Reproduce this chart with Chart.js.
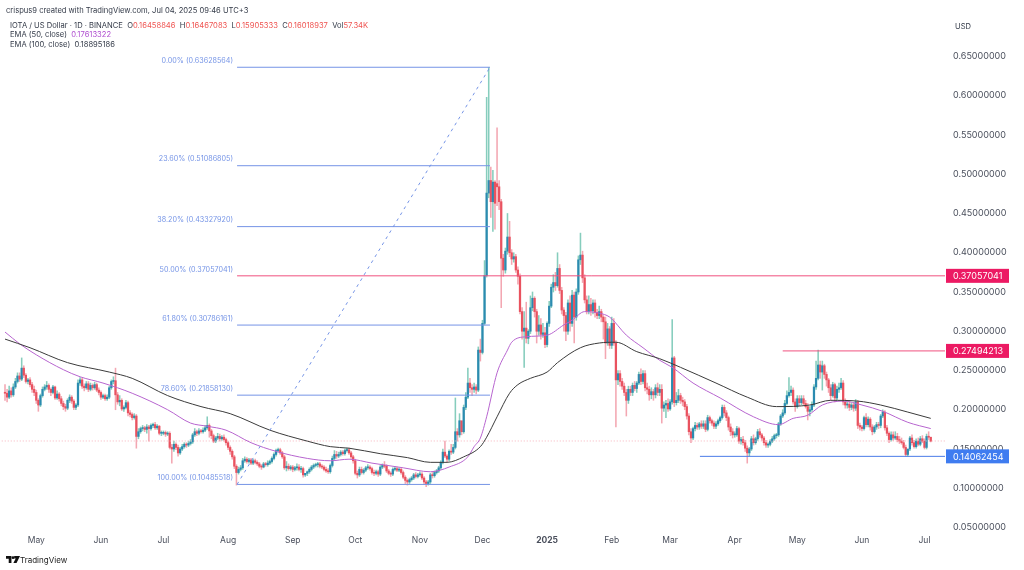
<!DOCTYPE html>
<html>
<head>
<meta charset="utf-8">
<title>IOTA / US Dollar</title>
<script src="https://cdn.jsdelivr.net/npm/chart.js@4/dist/chart.umd.min.js"></script>
<style>
  html,body{margin:0;padding:0;background:#fff;font-family:Inter,"Liberation Sans",sans-serif;}
  #wrap{position:relative;width:1024px;height:570px;overflow:hidden;filter:blur(0.35px);}
  canvas{position:absolute;left:0;top:0;}
  .t{position:absolute;white-space:nowrap;font-size:7.6px;line-height:10px;color:#333a48;}
  .r{color:#ef5350;}
  .p{color:#b04fd0;}
  #logo{position:absolute;left:6px;top:556px;}
</style>
</head>
<body>
<div id="wrap">
  <canvas id="c" width="1024" height="570"></canvas>
  <div class="t" style="left:6px;top:6px">crispus9 created with TradingView.com, Jul 04, 2025 09:46 UTC+3</div>
  <div class="t" style="left:10px;top:21px">IOTA / US Dollar · 1D · BINANCE &nbsp;O<span class="r">0.16458846</span> &nbsp;H<span class="r">0.16467083</span> &nbsp;L<span class="r">0.15905333</span> &nbsp;C<span class="r">0.16018937</span> &nbsp;Vol<span class="r">57.34K</span></div>
  <div class="t" style="left:10px;top:30px">EMA (50, close) &nbsp;<span class="p">0.17613322</span></div>
  <div class="t" style="left:10px;top:40px">EMA (100, close) &nbsp;0.18895186</div>
  <div class="t" style="left:955px;top:22px">USD</div>
  <svg id="logo" width="14" height="8" viewBox="0 0 36 20"><path fill="#111" d="M0 0h14v18H7V7H0zM21 0h15l-9 18h-8l6-12h-4z"/><circle cx="18" cy="4" r="3.6" fill="#111"/></svg>
  <div class="t" style="left:20px;top:555px;font-size:8px;color:#222">TradingView</div>
</div>
<script>
const opens = [
222,221,216,224,219,229,236,243,239,253,
244,236,238,232,226,222,212,206,218,226,
229,231,226,222,229,215,220,214,208,204,
202,212,216,211,203,206,234,238,230,228,
233,226,231,228,232,225,222,216,218,214,
216,228,236,237,219,210,212,201,203,209,
196,194,190,192,166,172,176,177,175,178,
176,180,181,177,179,170,170,171,169,170,
152,150,156,152,145,150,153,156,155,157,
159,168,172,170,173,172,174,177,180,173,
167,160,164,166,163,165,162,158,152,147,
140,128,120,124,126,135,137,134,136,132,
135,133,131,128,127,131,130,132,134,138,
143,148,149,145,140,126,128,125,127,124,
126,127,124,125,117,119,121,124,127,129,
130,131,128,127,124,122,121,129,138,143,
141,143,146,144,148,149,145,140,135,119,
117,124,120,123,126,127,125,120,119,121,
118,127,129,128,122,119,118,124,125,123,
124,120,114,110,108,111,113,117,115,117,
118,113,108,106,108,117,116,120,122,126,
133,146,141,137,147,146,152,172,168,186,
172,203,216,234,228,226,229,225,276,273,
310,371,476,492,465,490,488,484,465,393,
378,402,420,400,392,395,378,370,325,300,
304,291,300,330,342,325,300,308,296,298,
283,310,332,356,362,358,380,352,327,320,
300,336,310,346,318,350,391,397,368,340,
325,334,326,336,324,320,325,318,312,285,
303,282,310,285,238,246,236,230,222,212,
226,222,231,227,234,245,236,246,228,226,
219,223,219,228,222,226,202,206,208,201,
210,266,209,212,218,212,210,204,192,172,
164,176,180,178,182,179,182,175,190,186,
183,179,182,186,190,203,196,190,178,172,
168,168,176,160,162,158,151,145,150,163,
158,163,172,168,164,158,155,156,160,163,
167,168,182,192,196,208,218,222,225,210,
204,214,209,214,208,204,198,200,206,229,
240,257,248,256,245,238,228,218,232,215,
226,228,234,210,206,207,203,206,202,210,
180,178,176,190,181,188,178,172,178,181,
180,192,197,177,170,162,168,164,166,162,
160,158,152,143,150,164,158,153,160,156,
163,160,152,166,165];
const closes = [
221,216,224,219,229,236,243,239,253,244,
236,238,232,226,222,212,206,218,226,229,
231,226,222,229,215,220,214,208,204,202,
212,216,211,203,206,234,238,230,228,233,
226,231,228,232,225,222,216,218,214,216,
228,236,237,219,210,212,201,203,209,196,
194,190,192,166,172,176,177,175,178,176,
180,181,177,179,170,170,171,169,170,152,
150,156,152,145,150,153,156,155,157,159,
168,172,170,173,172,174,177,180,173,167,
160,164,166,163,165,162,158,152,147,140,
128,120,124,126,135,137,134,136,132,135,
133,131,128,127,131,130,132,134,138,143,
148,149,145,140,126,128,125,127,124,126,
127,124,125,117,119,121,124,127,129,130,
131,128,127,124,122,121,129,138,143,141,
143,146,144,148,149,145,140,135,119,117,
124,120,123,126,127,125,120,119,121,118,
127,129,128,122,119,118,124,125,123,124,
120,114,110,108,111,113,117,115,117,118,
113,108,106,108,117,116,120,122,126,133,
146,141,137,147,146,152,172,168,186,172,
203,216,234,228,226,229,225,276,273,310,
371,476,492,465,490,463,484,465,393,378,
402,420,400,392,395,378,370,325,300,304,
291,300,330,342,325,300,308,296,298,283,
310,332,356,362,358,380,352,327,320,300,
336,310,346,318,350,391,397,368,340,325,
334,326,336,324,320,325,318,312,285,303,
282,310,285,238,246,236,230,222,212,226,
222,231,227,234,245,236,246,228,226,219,
223,219,228,222,226,202,206,208,201,210,
266,209,212,218,212,210,204,192,172,164,
176,180,178,182,179,182,175,190,186,183,
179,182,186,190,203,196,190,178,172,168,
168,176,160,162,158,151,145,150,163,158,
163,172,168,164,158,155,156,160,163,167,
168,182,192,196,208,218,222,225,210,204,
214,209,214,208,204,198,200,206,229,240,
257,248,256,245,238,228,218,232,215,226,
228,234,210,206,207,203,206,202,210,180,
178,176,190,181,188,178,172,178,181,180,
192,197,177,170,162,168,164,166,162,160,
158,152,143,150,164,158,153,160,156,163,
160,152,166,165,160];
const highs = [
232,226,230,228,233,240,247,247,266,256,
246,240,241,235,230,225,214,220,229,232,
236,233,228,231,230,224,222,217,211,207,
214,219,218,213,208,238,241,240,233,236,
236,234,233,235,234,228,224,220,220,219,
230,238,242,253,222,218,214,205,212,211,
199,196,195,194,176,178,180,179,181,180,
182,183,184,181,180,173,173,173,172,172,
156,160,158,155,152,156,158,158,160,162,
170,176,174,176,175,177,180,191,182,175,
169,166,170,169,167,168,164,160,154,149,
142,130,127,129,138,140,139,138,138,137,
137,135,133,130,133,133,135,136,140,145,
150,151,151,147,142,134,131,129,129,128,
131,130,128,127,119,122,126,129,131,132,
133,133,130,129,127,125,131,141,148,147,
146,148,148,150,151,151,147,142,137,122,
127,127,125,128,130,129,127,123,123,123,
129,131,134,130,124,121,126,128,127,126,
126,122,116,112,113,115,119,120,119,121,
120,115,110,110,119,120,122,124,128,135,
150,160,143,149,156,156,215,176,195,180,
206,222,253,240,232,234,232,280,290,314,
390,598,636,509,505,492,559,492,468,398,
406,450,440,404,400,398,382,373,330,325,
337,302,345,350,344,328,320,316,310,305,
312,338,360,372,375,400,385,356,330,324,
340,345,352,350,354,396,425,402,372,345,
345,342,340,340,328,332,328,320,318,310,
306,318,316,288,250,250,240,234,226,230,
230,234,236,236,248,252,250,250,234,230,
228,226,232,234,232,232,210,212,214,213,
315,268,222,226,221,216,213,207,195,176,
178,184,183,184,186,186,186,193,192,188,
186,185,188,192,206,206,199,192,182,176,
172,179,178,165,166,161,154,152,166,168,
165,175,176,170,166,161,158,162,166,169,
170,184,194,200,212,224,241,230,228,214,
218,218,218,218,212,208,204,210,232,262,
276,262,262,258,248,240,232,235,234,230,
234,240,237,214,210,211,208,209,213,212,
183,180,192,195,191,190,181,180,184,184,
194,200,199,180,172,172,172,172,170,166,
164,161,155,148,166,168,161,163,164,166,
167,163,169,172,165];
const lows = [
212,210,214,216,217,227,234,236,237,241,
234,233,229,222,218,208,198,204,216,224,
226,222,218,220,213,213,211,205,200,198,
200,209,208,200,200,204,231,227,224,226,
223,224,225,226,223,219,213,214,212,212,
214,226,233,200,207,205,199,198,201,192,
191,187,188,151,163,170,173,172,170,160,
174,177,175,175,168,167,168,166,167,150,
132,147,149,141,143,148,151,152,153,155,
157,166,167,168,170,170,172,175,165,163,
158,158,162,160,161,160,155,149,143,137,
125,104,118,122,124,133,132,132,130,130,
131,129,126,124,126,128,128,130,132,136,
141,146,143,138,124,122,123,123,121,122,
123,122,120,114,115,116,119,122,125,127,
127,126,125,122,120,119,119,127,136,138,
139,141,142,142,146,143,138,132,117,113,
115,118,118,121,124,123,118,116,117,115,
116,125,126,120,117,115,116,122,121,121,
118,112,106,104,106,109,111,113,113,115,
111,105,102,104,106,113,114,118,120,124,
131,139,134,135,143,144,150,160,165,168,
170,200,214,222,218,222,220,223,262,271,
308,369,470,445,427,430,460,455,330,370,
374,398,395,385,388,375,360,322,290,254,
285,284,297,326,318,285,295,290,292,279,
280,306,330,350,352,356,348,322,300,288,
296,300,306,285,314,347,385,362,336,322,
322,320,322,318,316,316,312,290,265,282,
278,278,282,178,232,230,226,218,192,208,
218,218,224,222,232,232,233,224,220,212,
214,212,215,218,218,183,198,190,198,199,
207,204,206,209,208,205,200,188,168,158,
162,173,175,175,176,176,172,173,183,180,
176,176,180,184,188,192,186,174,167,164,
165,166,157,156,155,147,132,141,148,155,
156,161,165,161,155,152,152,154,158,161,
164,166,180,190,194,206,216,218,207,198,
202,205,206,206,202,187,192,198,204,226,
238,240,225,240,230,222,212,216,210,212,
222,226,206,202,202,199,200,198,199,176,
174,173,174,178,178,174,168,170,175,176,
177,190,174,167,158,160,161,162,159,157,
156,150,141,141,148,155,151,151,154,154,
158,150,150,162,159];

// EMA lines, read at the bends only
const ema100Days = [0,12,30,50,61,78,94,108,127,145,156,165,180,193,204,212,220,228,231,236,242,246,252,260,265,276,285,293,303,314,324,341,356,370,386,396,409,420,433,444];
const ema100 = [290,279,260,248,240,218,204,195,174,160,153,151,144,139,133,133,140,153,165,191,221,232,240,248,260,279,285,286,274,265,254,234,216,204,206,212,211,206,197,189];
const ema50Days = [0,7,15,28,36,47,61,78,89,97,106,118,130,145,156,165,176,191,204,213,222,225,228,231,236,241,243,250,260,268,272,278,285,290,298,306,314,320,330,343,359,371,378,385,392,402,411,421,433,444];
const ema50 = [299,284,270,251,242,234,221,200,183,179,174,158,147,138,135,137,132,126,121,127,140,153,164,191,247,276,286,293,295,308,314,325,323,318,295,279,263,254,234,215,191,181,189,193,206,211,206,198,184,176];

// x axis, day 0 is the first candle
const monthDays = [15,46,76,107,138,168,199,229,260,291,319,350,380,411,441];
const monthNames = ['May','Jun','Jul','Aug','Sep','Oct','Nov','Dec','2025','Feb','Mar','Apr','May','Jun','Jul'];
const yTicks = [0.05,0.10,0.15,0.20,0.25,0.30,0.35,0.40,0.45,0.50,0.55,0.60,0.65];

// fib retracement tool
const fibPrices = [0.63628564,0.51086805,0.43327920,0.37057041,0.30786161,0.21858130,0.10485518];
const fibLabels = ['0.00%','23.60%','38.20%','50.00%','61.80%','78.60%','100.00%'];
const fibDays = [111.3,232.6];

const lastClose = 0.16018937;
const redLevels = [0.37057041,0.27494213];
const redStarts = [111.3,373];
const blueLevel = 0.14062454;
const blueStart = 333.3;

const UP_BODY='#2b8bb0', UP_WICK='#86cdbd', DOWN_BODY='#e9525f', DOWN_WICK='#f3a7b2';
const FIB='#7594e6', RED='#f0517f', BLUE='#4a7be8';

(function(){
  const isUp = i => closes[i] >= opens[i];
  const bodies = closes.map((c,i)=>({x:i,y:[opens[i]/1000,c/1000]}));
  const wicks = closes.map((c,i)=>({x:i,y:[lows[i]/1000,highs[i]/1000]}));
  const hline = (y,x0,color,extra) => Object.assign({
    type:'line', data:[{x:x0,y:y},{x:451,y:y}], borderColor:color, borderWidth:1,
    pointRadius:0, order:1
  },extra||{});

  const datasets = [
    { type:'bar', data:wicks, barThickness:0.9, order:6,
      backgroundColor:closes.map((c,i)=>isUp(i)?UP_WICK:DOWN_WICK) },
    { type:'bar', data:bodies, barThickness:1.6, minBarLength:1, order:5,
      backgroundColor:closes.map((c,i)=>isUp(i)?UP_BODY:DOWN_BODY) },
    { type:'line', data:ema100Days.map((d,i)=>({x:d,y:ema100[i]/1000})), borderColor:'#3b3b3b', borderWidth:1,
      pointRadius:0, cubicInterpolationMode:'monotone', order:3 },
    { type:'line', data:ema50Days.map((d,i)=>({x:d,y:ema50[i]/1000})), borderColor:'#b765cf', borderWidth:1,
      pointRadius:0, cubicInterpolationMode:'monotone', order:3 },
    hline(lastClose,-3,'#f7b3bc',{borderDash:[1,2],order:4}),
    { type:'line', data:[{x:fibDays[0],y:fibPrices[6]},{x:fibDays[1],y:fibPrices[0]}], borderColor:FIB, borderWidth:1,
      borderDash:[3,4], pointRadius:0, order:2 }
  ];
  // the 50% level is covered by the red line
  fibPrices.filter(p=>!redLevels.includes(p)).forEach(p=>{
    datasets.push({ type:'line', data:[{x:fibDays[0],y:p},{x:fibDays[1],y:p}], borderColor:FIB, borderWidth:1, pointRadius:0, order:2 });
  });
  redLevels.forEach((p,i)=>datasets.push(hline(p,redStarts[i],RED)));
  datasets.push(hline(blueLevel,blueStart,BLUE));

  const labelsPlugin = {
    id:'labels',
    afterDatasetsDraw(chart){
      const g = chart.ctx, y = chart.scales.y, x = chart.scales.x;
      g.save();
      g.font = '7.2px Inter';
      g.fillStyle = FIB;
      g.textAlign = 'right';
      g.textBaseline = 'middle';
      fibPrices.forEach((p,i)=>{
        g.fillText(fibLabels[i]+' ('+p.toFixed(8)+')', x.getPixelForValue(fibDays[0])-4, y.getPixelForValue(p)-6.5);
      });
      // price tags on the axis
      const tag = (p,col)=>{
        const py = y.getPixelForValue(p);
        g.fillStyle = col;
        g.fillRect(946,py-7,63,14);
        g.fillStyle = '#fff';
        g.font = '9px Inter';
        g.textAlign = 'left';
        g.fillText(p.toFixed(8),953,py+0.5);
      };
      redLevels.forEach(p=>tag(p,'#ec1a63'));
      tag(blueLevel,'#3f7cf0');
      g.restore();
    }
  };

  new Chart(document.getElementById('c'),{
    type:'bar',
    data:{datasets},
    plugins:[labelsPlugin],
    options:{
      responsive:false,
      animation:false,
      devicePixelRatio:1,
      layout:{padding:{top:40,left:0,right:0,bottom:0}},
      datasets:{bar:{grouped:false}},
      plugins:{legend:{display:false},tooltip:{enabled:false}},
      scales:{
        x:{
          type:'linear', min:-2.4, max:450.84, offset:false,
          grid:{display:false,drawTicks:false}, border:{display:false},
          afterBuildTicks(ax){ ax.ticks = monthDays.map(v=>({value:v})); },
          afterFit(ax){ ax.height = 40; },
          ticks:{
            autoSkip:false, maxRotation:0, padding:5, color:'#4a4f5c',
            font:c=>({family:'Inter',size:8.5,weight:c.tick && c.tick.value===260?'bold':'normal'}),
            callback:v=>monthNames[monthDays.indexOf(v)]
          }
        },
        y:{
          position:'right', min:0.0468, max:0.671,
          grid:{display:false,drawTicks:false}, border:{display:false},
          afterBuildTicks(ax){ ax.ticks = yTicks.map(v=>({value:v})); },
          afterFit(ax){ ax.width = 79; },
          ticks:{
            autoSkip:false, padding:8, color:'#4a4f5c', font:{family:'Inter',size:9},
            callback:v=>Number(v).toFixed(8)
          }
        }
      }
    }
  });
})();
</script>
</body>
</html>
